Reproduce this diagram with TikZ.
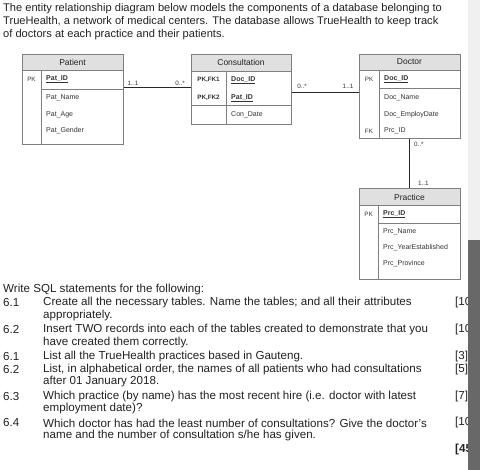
\documentclass[tikz,border=0pt]{standalone}
\usepackage{fontspec}
\setmainfont{Liberation Sans}
\definecolor{bordc}{HTML}{7F7F7F}
\definecolor{hdrc}{HTML}{E0E0E0}
\definecolor{txtc}{HTML}{222222}
\definecolor{fldc}{HTML}{333333}
\definecolor{scrl}{HTML}{F0F0F0}
\definecolor{scrd}{HTML}{686868}
\newcommand\ttlf{\fontsize{8.5}{10}\selectfont}
\newcommand\fldf{\fontsize{7}{8}\selectfont}
\newcommand\pkf{\fontsize{6.3}{7}\selectfont}
\newcommand\mainf{\fontsize{11.1}{13}\selectfont}
\newcommand\qf{\fontsize{11.6}{13}\selectfont}
\newsavebox\keybox
\newcommand\keyf[1]{\sbox\keybox{\textbf{#1}}\rlap{\rule[-1.3pt]{\wd\keybox}{0.45pt}}\usebox\keybox}
\begin{document}
\begin{tikzpicture}[x=1pt,y=-1pt,
  ent/.style={draw=bordc, line width=0.6pt, inner sep=0pt, minimum width=101pt, anchor=north west},
  hdr/.style={fill=hdrc},
  bd/.style={draw=bordc, line width=0.6pt},
  ttl/.style={inner sep=0pt, font=\ttlf, text=txtc},
  fld/.style={inner sep=0pt, anchor=west, font=\fldf, text=fldc},
  pk/.style={inner sep=0pt, font=\pkf, text=fldc},
  card/.style={inner sep=0pt, font=\pkf, text=fldc},
  conn/.style={draw=black!85, line width=0.6pt},
  txt/.style={inner sep=0pt, anchor=west, font=\mainf, text=txtc},
  qtxt/.style={inner sep=0pt, anchor=west, font=\qf, text=txtc}]
\useasboundingbox (0,0) rectangle (480,470);
\fill[white] (0,0) rectangle (480,470);

% intro text
\node[txt] (l1) at (3,8.5) {The entity relationship diagram below models the components of a database belonging to};
\node[txt] (l2) at (3,22) {TrueHealth, a network of medical centers. The database allows TrueHealth to keep track};
\node[txt] (l3) at (3,35) {of doctors at each practice and their patients.};

% ---------- Patient
\fill[hdr] (22,54) rectangle (123,70);
\node[ent, minimum height=90pt] (patient) at (22,54) {};
\draw[bd] (22,70) -- (123,70);
\draw[bd] (41,70) -- (41,144);
\draw[bd] (41,89) -- (123,89);
\node[ttl] (patT) at (72.5,62) {Patient};
\node[pk] (patPK) at (31.5,79) {PK};
\node[fld] (patA) at (46,79) {\keyf{Pat\_ID}};
\node[fld] (patB) at (46,98) {Pat\_Name};
\node[fld] (patC) at (46,115) {Pat\_Age};
\node[fld] (patD) at (46,131) {Pat\_Gender};

% ---------- Consultation
\fill[hdr] (191,54) rectangle (291,71);
\node[ent, minimum width=100pt, minimum height=70pt] (cons) at (191,54) {};
\draw[bd] (191,71) -- (291,71);
\draw[bd] (226,71) -- (226,124);
\draw[bd] (191,105) -- (291,105);
\node[ttl] (conT) at (241,62.5) {Consultation};
\node[pk] (conPK1) at (208.5,80) {\textbf{PK,FK1}};
\node[pk] (conPK2) at (208.5,98) {\textbf{PK,FK2}};
\node[fld] (conA) at (231,80) {\keyf{Doc\_ID}};
\node[fld] (conB) at (231,98) {\keyf{Pat\_ID}};
\node[fld] (conC) at (231,115) {Con\_Date};

% ---------- Doctor
\fill[hdr] (359,54) rectangle (460,70);
\node[ent, minimum height=84pt] (doc) at (359,54) {};
\draw[bd] (359,70) -- (460,70);
\draw[bd] (379,70) -- (379,138);
\draw[bd] (379,88) -- (460,88);
\node[ttl] (docT) at (409.5,62) {Doctor};
\node[pk] (docPK) at (369,79) {PK};
\node[pk] (docFK) at (369,131) {FK};
\node[fld] (docA) at (384,79) {\keyf{Doc\_ID}};
\node[fld] (docB) at (384,98) {Doc\_Name};
\node[fld] (docC) at (384,115) {Doc\_EmployDate};
\node[fld] (docD) at (384,131) {Prc\_ID};

% ---------- Practice
\fill[hdr] (359,188) rectangle (460,205);
\node[ent, minimum height=91pt] (prc) at (359,188) {};
\draw[bd] (359,205) -- (460,205);
\draw[bd] (378,205) -- (378,279);
\draw[bd] (378,223) -- (460,223);
\node[ttl] (prcT) at (409.5,197) {Practice};
\node[pk] (prcPK) at (368.5,214) {PK};
\node[fld] (prcA) at (383,214) {\keyf{Prc\_ID}};
\node[fld] (prcB) at (383,232) {Prc\_Name};
\node[fld] (prcC) at (383,248) {Prc\_YearEstablished};
\node[fld] (prcD) at (383,264) {Prc\_Province};

% ---------- connectors
\coordinate (y1) at (0,87);
\coordinate (y2) at (0,92);
\coordinate (x3) at (409,0);
\draw[conn] (patient.east |- y1) -- (cons.west |- y1);
\draw[conn] (cons.east |- y2) -- (doc.west |- y2);
\draw[conn] (doc.south -| x3) -- (prc.north -| x3);
\node[card, anchor=south] (c1) at (133,86) {1..1};
\node[card, anchor=south] (c2) at (180,86) {0..*};
\node[card, anchor=south] (c3) at (302,89) {0..*};
\node[card, anchor=south] (c4) at (348,89) {1..1};
\node[card, anchor=west] (c5) at (414,144) {0..*};
\node[card, anchor=west] (c6) at (418,183) {1..1};

% ---------- questions
\node[qtxt] (w0) at (3,290) {Write SQL statements for the following:};
\node[qtxt] (n1) at (3,303) {6.1};
\node[qtxt] (q1a) at (43,303) {Create all the necessary tables. Name the tables; and all their attributes};
\node[qtxt] (q1b) at (43,315.5) {appropriately.};
\node[qtxt] (n2) at (3,330) {6.2};
\node[qtxt] (q2a) at (43,330) {Insert TWO records into each of the tables created to demonstrate that you};
\node[qtxt] (q2b) at (43,342.5) {have created them correctly.};
\node[qtxt] (n3) at (3,357) {6.1};
\node[qtxt] (q3a) at (43,357) {List all the TrueHealth practices based in Gauteng.};
\node[qtxt] (n4) at (3,369.5) {6.2};
\node[qtxt] (q4a) at (43,369.5) {List, in alphabetical order, the names of all patients who had consultations};
\node[qtxt] (q4b) at (43,382) {after 01 January 2018.};
\node[qtxt] (n5) at (3,396.5) {6.3};
\node[qtxt] (q5a) at (43,396.5) {Which practice (by name) has the most recent hire (i.e. doctor with latest};
\node[qtxt] (q5b) at (43,409) {employment date)?};
\node[qtxt] (n6) at (3,423) {6.4};
\node[qtxt] (q6a) at (43,423) {Which doctor has had the least number of consultations? Give the doctor's};
\node[qtxt] (q6b) at (43,435.5) {name and the number of consultation s/he has given.};
\node[qtxt] (m1) at (455,303) {[10]};
\node[qtxt] (m2) at (455,330) {[10]};
\node[qtxt] (m3) at (455,357) {[3]};
\node[qtxt] (m4) at (455,369.5) {[5]};
\node[qtxt] (m5) at (455,396.5) {[7]};
\node[qtxt] (m6) at (455,423) {[10]};
\node[qtxt] (m7) at (455,450) {\textbf{[45]}};

% ---------- scrollbar
\fill[scrl] (468,0) rectangle (480,240);
\fill[scrd] (468,240) rectangle (480,470);
\end{tikzpicture}
\end{document}
